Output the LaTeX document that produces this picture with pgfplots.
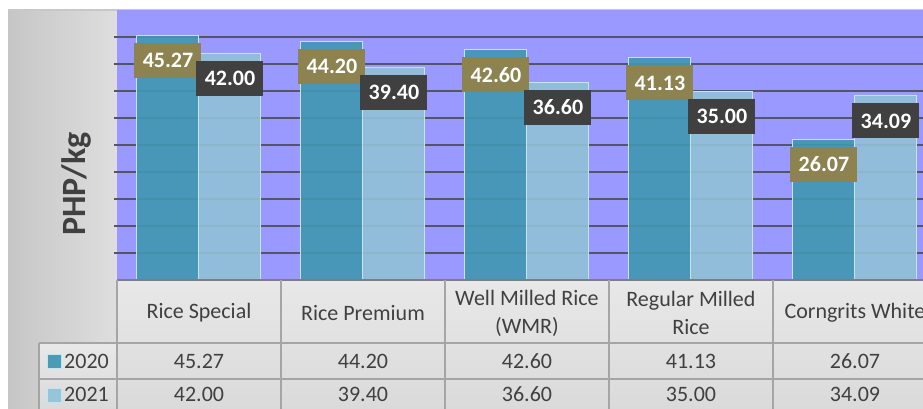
\documentclass[border=0pt]{standalone}
\usepackage{fontspec}
\setmainfont{Carlito}
\usepackage{pgfplots}
\pgfplotsset{compat=1.18}
\definecolor{plotbg}{RGB}{153,153,255}
\definecolor{gridc}{RGB}{85,85,105}
\definecolor{cA}{RGB}{65,151,177}
\definecolor{cB}{RGB}{145,194,215}
\definecolor{barline}{RGB}{195,228,242}
\definecolor{labA}{RGB}{141,131,80}
\definecolor{labB}{RGB}{64,64,64}
\definecolor{txt}{RGB}{64,64,64}
\definecolor{tline}{RGB}{165,165,165}
\definecolor{tlinedark}{RGB}{125,125,130}
\definecolor{panelL}{RGB}{198,198,198}
\definecolor{panelR}{RGB}{222,222,222}
\definecolor{tabT}{RGB}{232,232,232}
\definecolor{tabB}{RGB}{218,218,218}
\newcommand{\fs}{\fontsize{22}{28}\selectfont}
\begin{document}
\begin{tikzpicture}
\path[use as bounding box] (0,0) rectangle (923pt,-409pt);
\clip (0,0) rectangle (923pt,-409pt);
\fill[white] (0,0) rectangle (923pt,-409pt);
% left panel
\shade[left color=panelL, right color=panelR] (8pt,-10pt) rectangle (117pt,-409pt);
% table area
\shade[top color=tabT, bottom color=tabB] (117pt,-280pt) rectangle (923pt,-409pt);
\shade[top color=tabT, bottom color=tabB] (39pt,-343pt) rectangle (117pt,-409pt);
\draw[color={rgb,255:red,200;green,200;blue,200}, line width=1.5pt] (8pt,-10pt) -- (923pt,-10pt);
% y label
\node[rotate=90, font=\bfseries\fontsize{34}{34}\selectfont, text=txt] at (76pt,-184pt) {PHP/kg};
\begin{axis}[
  at={(117pt,-280pt)}, anchor=south west,
  scale only axis, width=806pt, height=270pt,
  xmin=-0.5, xmax=4.415, ymin=0, ymax=50,
  axis background/.style={fill=plotbg},
  axis line style={draw=none},
  ytick={5,10,...,45}, yticklabels={},
  ymajorgrids, major grid style={draw=gridc, line width=1.6pt},
  ytick style={draw=gridc, line width=1.6pt}, tick align=outside, major tick length=3pt,
  xtick={0,1,2,3,4}, xtick style={draw=none},
  xticklabels={Rice Special, Rice Premium, {Well Milled Rice\\(WMR)}, {Regular Milled\\Rice}, Corngrits White},
  xticklabel style={anchor=center, align=center, yshift=-30pt, font=\fs, text=txt},
  ybar, bar width=62pt,
  clip=false,
  /pgf/number format/fixed, /pgf/number format/fixed zerofill,
  /pgf/number format/precision=2, /pgf/number format/assume math mode=true,
]
\addplot[fill=cA, fill opacity=0.9, draw=barline, line width=1pt, bar shift=-31pt]
  coordinates {(0,45.27) (1,44.20) (2,42.60) (3,41.13) (4,26.07)};
\addplot[fill=cB, fill opacity=0.9, draw=barline, line width=1pt, bar shift=31pt]
  coordinates {(0,42.00) (1,39.40) (2,36.60) (3,35.00) (4,34.09)};
\addplot[draw=none, fill=none, bar shift=-31pt, nodes near coords,
  every node near coord/.append style={fill=labA, text=white, font=\bfseries\fontsize{22}{22}\selectfont,
    minimum width=67pt, minimum height=35pt, inner sep=0pt, anchor=center, yshift=-25pt}]
  coordinates {(0,45.27) (1,44.20) (2,42.60) (3,41.13) (4,26.07)};
\addplot[draw=none, fill=none, bar shift=31pt, nodes near coords,
  every node near coord/.append style={fill=labB, text=white, font=\bfseries\fontsize{22}{22}\selectfont,
    minimum width=67pt, minimum height=35pt, inner sep=0pt, anchor=center, yshift=-25pt}]
  coordinates {(0,42.00) (1,39.40) (2,36.60) (3,35.00) (4,34.09)};
\end{axis}
% table lines
\draw[tlinedark, line width=1.8pt] (117pt,-280pt) -- (923pt,-280pt);
\draw[tline, line width=1.5pt] (39pt,-343pt) -- (923pt,-343pt);
\draw[tline, line width=1.5pt] (39pt,-379pt) -- (923pt,-379pt);
\draw[tline, line width=1.5pt] (39pt,-343pt) -- (39pt,-409pt);
\foreach \x in {117,281,445,609,773} {\draw[tline, line width=1.5pt] (\x pt,-280pt) -- (\x pt,-409pt);}
% legend keys
\fill[cA!95!white, draw=barline, line width=0.8pt] (47pt,-354pt) rectangle (61pt,-368pt);
\fill[cB!95!white, draw=barline, line width=0.8pt] (47pt,-388pt) rectangle (61pt,-402pt);
\node[anchor=west, inner sep=0pt, font=\fs, text=txt] at (64pt,-361pt) {2020};
\node[anchor=west, inner sep=0pt, font=\fs, text=txt] at (64pt,-394pt) {2021};
% table values
\foreach \x/\a/\b in {199/45.27/42.00, 363/44.20/39.40, 527/42.60/36.60, 691/41.13/35.00, 855/26.07/34.09} {
  \node[font=\fs, text=txt, inner sep=0pt] at (\x pt,-361pt) {\a};
  \node[font=\fs, text=txt, inner sep=0pt] at (\x pt,-394pt) {\b};
}
\end{tikzpicture}
\end{document}
